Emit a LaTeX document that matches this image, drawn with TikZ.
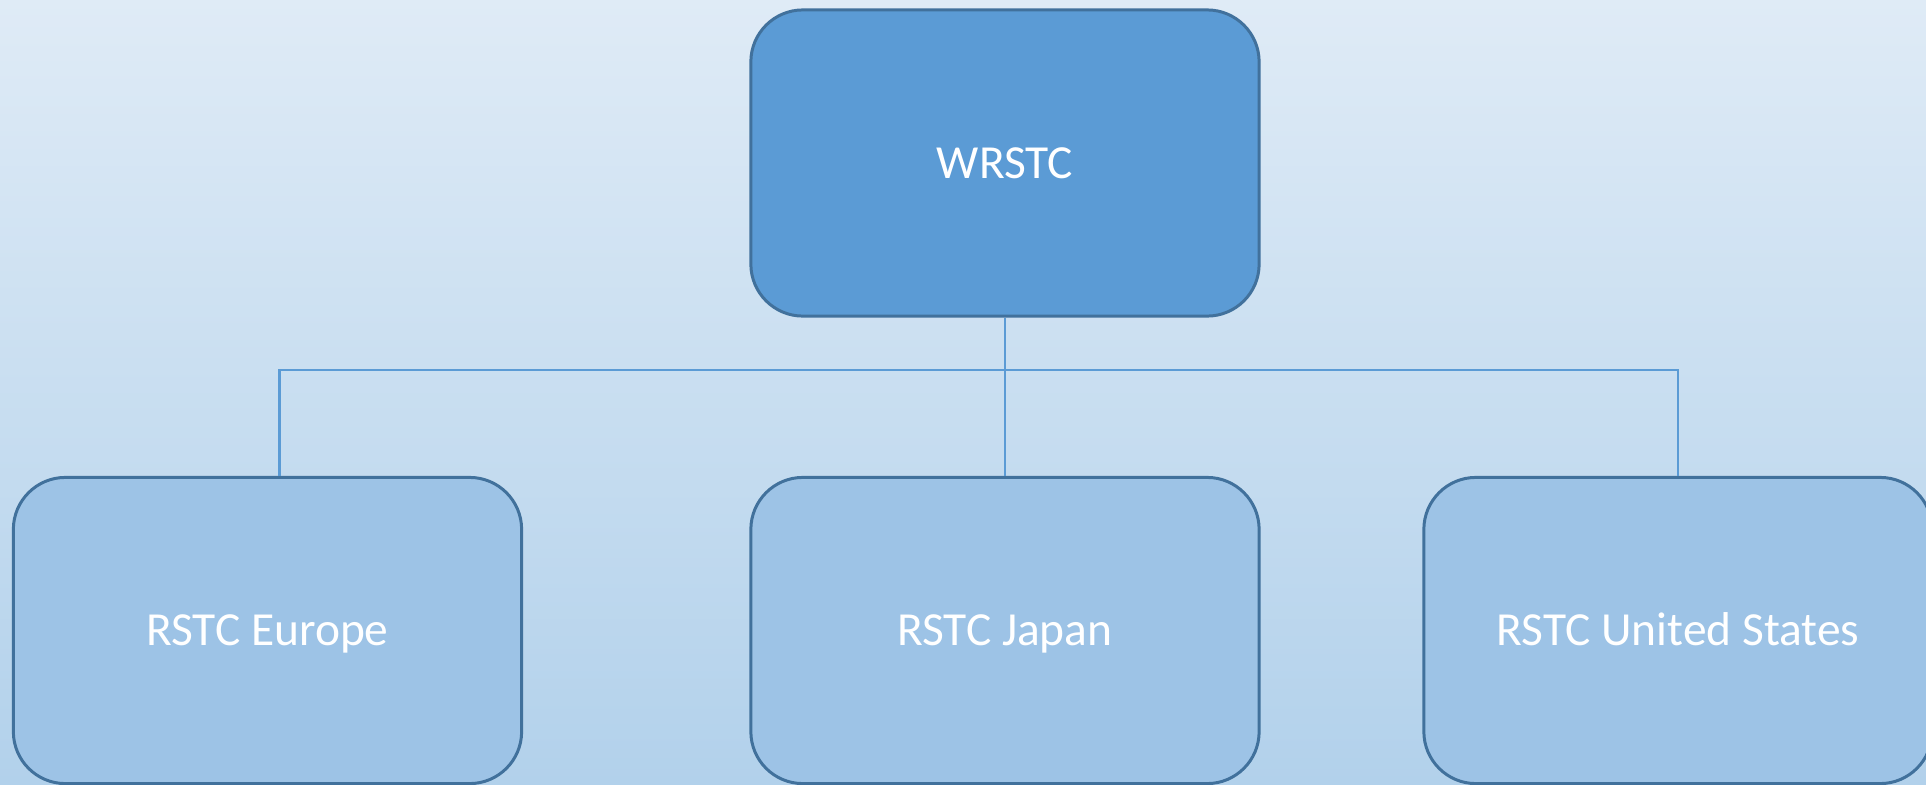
\documentclass[tikz,border=0pt]{standalone}
\usepackage{fontspec}
\setmainfont{Carlito}
\usepackage{xcolor}
\definecolor{bgtop}{HTML}{DFEBF6}
\definecolor{bgbot}{HTML}{B2D1EB}
\definecolor{headfill}{HTML}{5B9BD5}
\definecolor{subfill}{HTML}{9DC3E6}
\definecolor{boxline}{HTML}{41719C}
\definecolor{linkline}{HTML}{5B9BD5}
\tikzset{
  orgbox/.style={rectangle,draw=boxline,line width=0.85pt,rounded corners=0.52cm,
    minimum width=5.08cm,minimum height=3.06cm,inner sep=0pt,
    text=white,font=\fontsize{13.5}{16}\selectfont,text height=0.3cm,text depth=0pt},
  headbox/.style={orgbox,fill=headfill},
  subbox/.style={orgbox,fill=subfill},
  link/.style={draw=linkline,line width=0.6pt}
}

\begin{document}
\begin{tikzpicture}[x=0.01cm,y=-0.01cm]
\useasboundingbox (0,0) rectangle (1926,784);
\clip (0,0) rectangle (1926,784);
\shade[top color=bgtop,bottom color=bgbot] (0,0) rectangle (1926,784);
\node at (1005,163) [headbox] (w) {WRSTC};
\node at (267.5,630.5) [subbox] (e) {RSTC Europe};
\node at (1005,630.5) [subbox] (j) {RSTC Japan};
\node at (1678,630.5) [subbox] (u) {RSTC United States};
\draw[link] (w.south) -- (j.north);
\draw[link] ([xshift=0.12cm]e.north) -- ++(0,-106) -| (u.north);
\end{tikzpicture}
\end{document}
